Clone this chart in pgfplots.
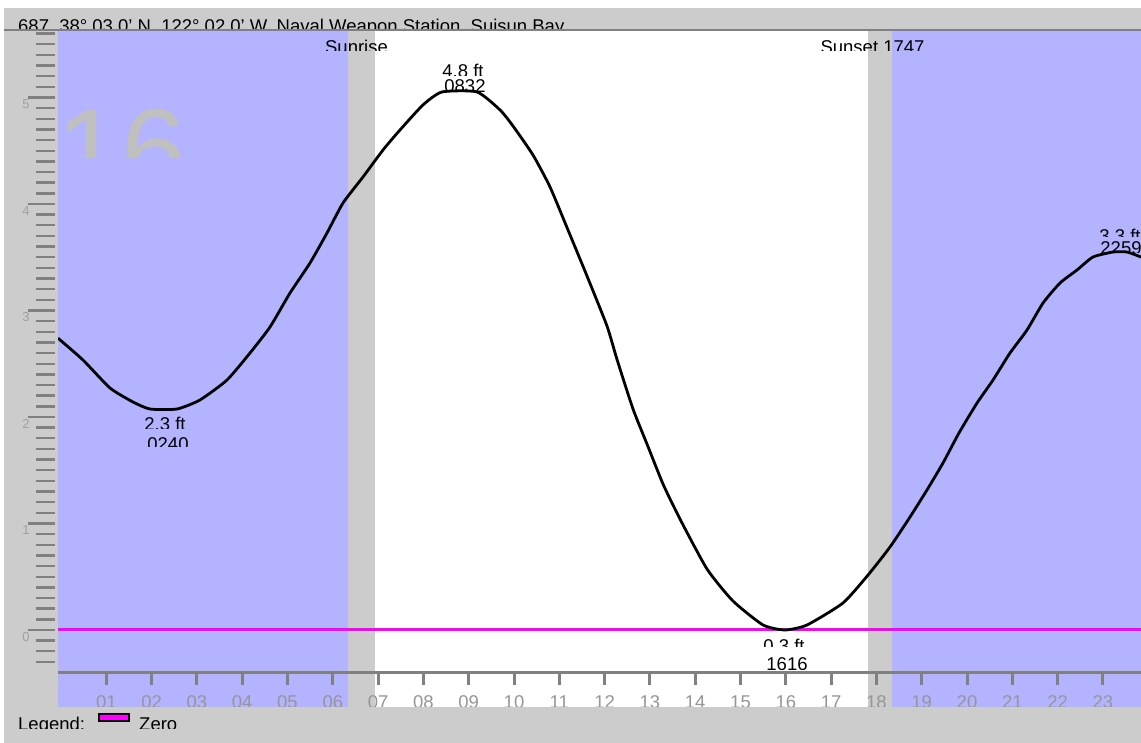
\documentclass[border=0pt]{standalone}
\usepackage{pgfplots}
\pgfplotsset{compat=1.18}
\usepackage{fontspec}
\setmainfont{Liberation Sans}

\definecolor{nightblue}{RGB}{179,179,255}
\definecolor{bggray}{RGB}{204,204,204}
\definecolor{tickgray}{RGB}{128,128,128}
\definecolor{labelgray}{RGB}{150,150,150}
\definecolor{ylabgray}{RGB}{160,160,160}
\definecolor{wmgray}{RGB}{192,192,192}
\definecolor{zeromag}{RGB}{255,0,255}

\newcommand{\lbl}{\fontsize{18.5pt}{22pt}\selectfont}
% x, baseline, clip bottom, clip top, anchor, text
\newcommand{\cliptext}[6]{%
  \begin{scope}
    \clip (0,#3) rectangle (1141,#4);
    \node[anchor=#5, inner sep=0pt, font=\lbl] at (#1,#2) {#6};
  \end{scope}}

\begin{document}
\begin{tikzpicture}[x=1pt,y=1pt]

% page background
\fill[white] (0,0) rectangle (1141,743);
\fill[bggray] (4,0) rectangle (1141,735);

\begin{axis}[
  at={(58pt,36pt)}, anchor=south west,
  width=1083pt, height=676pt, scale only axis,
  hide axis,
  xmin=-0.0662, xmax=23.841,
  ymin=-0.723, ymax=5.6244,
]
% night, twilight and day bands
\addplot [draw=none, fill=nightblue] coordinates {(-0.0662,-0.723) (6.336,-0.723) (6.336,5.6244) (-0.0662,5.6244)} -- cycle;
\addplot [draw=none, fill=bggray] coordinates {(6.336,-0.723) (6.932,-0.723) (6.932,5.6244) (6.336,5.6244)} -- cycle;
\addplot [draw=none, fill=white] coordinates {(6.932,-0.723) (17.815,-0.723) (17.815,5.6244) (6.932,5.6244)} -- cycle;
\addplot [draw=none, fill=bggray] coordinates {(17.815,-0.723) (18.344,-0.723) (18.344,5.6244) (17.815,5.6244)} -- cycle;
\addplot [draw=none, fill=nightblue] coordinates {(18.344,-0.723) (23.841,-0.723) (23.841,5.6244) (18.344,5.6244)} -- cycle;

% zero line
\addplot [zeromag, line width=3pt] coordinates {(-0.0662,0) (23.841,0)};

% tide curve (hour, ft)
\addplot [black, line width=2.8pt, line join=round, smooth, tension=0.35] table {
-0.066 2.740
0.486 2.535
1.082 2.272
1.589 2.141
1.965 2.075
2.561 2.075
3.068 2.160
3.664 2.347
4.172 2.601
4.614 2.845
5.055 3.164
5.497 3.446
5.872 3.728
6.225 4.009
6.667 4.254
7.108 4.507
7.483 4.695
7.991 4.930
8.411 5.052
9.183 5.052
9.691 4.883
9.978 4.732
10.419 4.460
10.795 4.160
11.192 3.756
11.611 3.324
12.053 2.854
12.274 2.540
12.627 2.075
12.936 1.746
13.289 1.371
13.664 1.042
14.260 0.573
14.834 0.272
15.497 0.047
15.982 0.000
16.468 0.047
17.263 0.254
17.815 0.516
18.300 0.779
18.742 1.061
19.117 1.315
19.470 1.568
19.823 1.850
20.221 2.131
20.574 2.347
20.949 2.601
21.325 2.817
21.678 3.070
22.053 3.258
22.428 3.380
22.781 3.502
23.223 3.549
23.532 3.549
23.841 3.502
};
\end{axis}

% day number watermark
\begin{scope}
  \clip (58,585) rectangle (1141,712);
  \node[anchor=base west, inner sep=0pt, text=wmgray,
        font=\fontsize{118pt}{120pt}\selectfont] at (56,551.5) {16};
\end{scope}

% top rule and x axis
\draw[tickgray, line width=2.5pt] (4,713) -- (1141,713);
\draw[tickgray, line width=3pt] (58,70) -- (1141,70);
\foreach \h/\t in {1/01,2/02,3/03,4/04,5/05,6/06,7/07,8/08,9/09,10/10,11/11,12/12,
                   13/13,14/14,15/15,16/16,17/17,18/18,19/19,20/20,21/21,22/22,23/23} {
  \pgfmathsetmacro\px{61+45.3*\h}
  \draw[tickgray, line width=3pt] (\px,70) -- (\px,58);
  \begin{scope}
    \clip (0,36) rectangle (1141,60);
    \node[anchor=base, inner sep=0pt, font=\lbl, text=labelgray] at (\px,34) {\t};
  \end{scope}
}

% y ruler
\foreach \i in {-3,...,56} {
  \pgfmathsetmacro\Y{113+10.65*\i}
  \draw[tickgray, line width=2.4pt] (36,\Y) -- (55,\Y);
}
\foreach \i in {0,...,5} {
  \pgfmathsetmacro\Y{113+106.5*\i}
  \draw[tickgray, line width=2.4pt] (28,\Y) -- (55,\Y);
  \node[inner sep=0pt, text=ylabgray, font=\fontsize{13pt}{14pt}\selectfont] at (26,\Y-7) {\i};
}

% title and sun labels
\cliptext{18}{710}{714}{743}{base west}{687, 38° 03.0' N, 122° 02.0' W, Naval Weapon Station, Suisun Bay}
\cliptext{356.5}{689}{692}{712}{base}{Sunrise}
\cliptext{872.5}{689}{692}{712}{base}{Sunset 1747}

% high and low labels
\cliptext{463}{665}{667}{712}{base}{4.8 ft}
\cliptext{465}{650}{651}{664}{base}{0832}
\cliptext{165}{312}{314}{330}{base}{2.3 ft}
\cliptext{168}{292}{296}{307}{base}{0240}
\cliptext{784}{90}{96}{105}{base}{0.3 ft}
\cliptext{787}{72}{73}{87}{base}{1616}
\cliptext{1120}{500}{506}{515}{base}{3.3 ft}
\cliptext{1121}{488}{490}{502}{base}{2259}

% legend
\fill[zeromag, draw=black, line width=2pt] (99,22) rectangle (129,29);
\cliptext{18}{12}{14}{35}{base west}{Legend:}
\cliptext{139}{12}{14}{35}{base west}{Zero}

\pgfresetboundingbox
\useasboundingbox (0,0) rectangle (1141,743);
\end{tikzpicture}
\end{document}
